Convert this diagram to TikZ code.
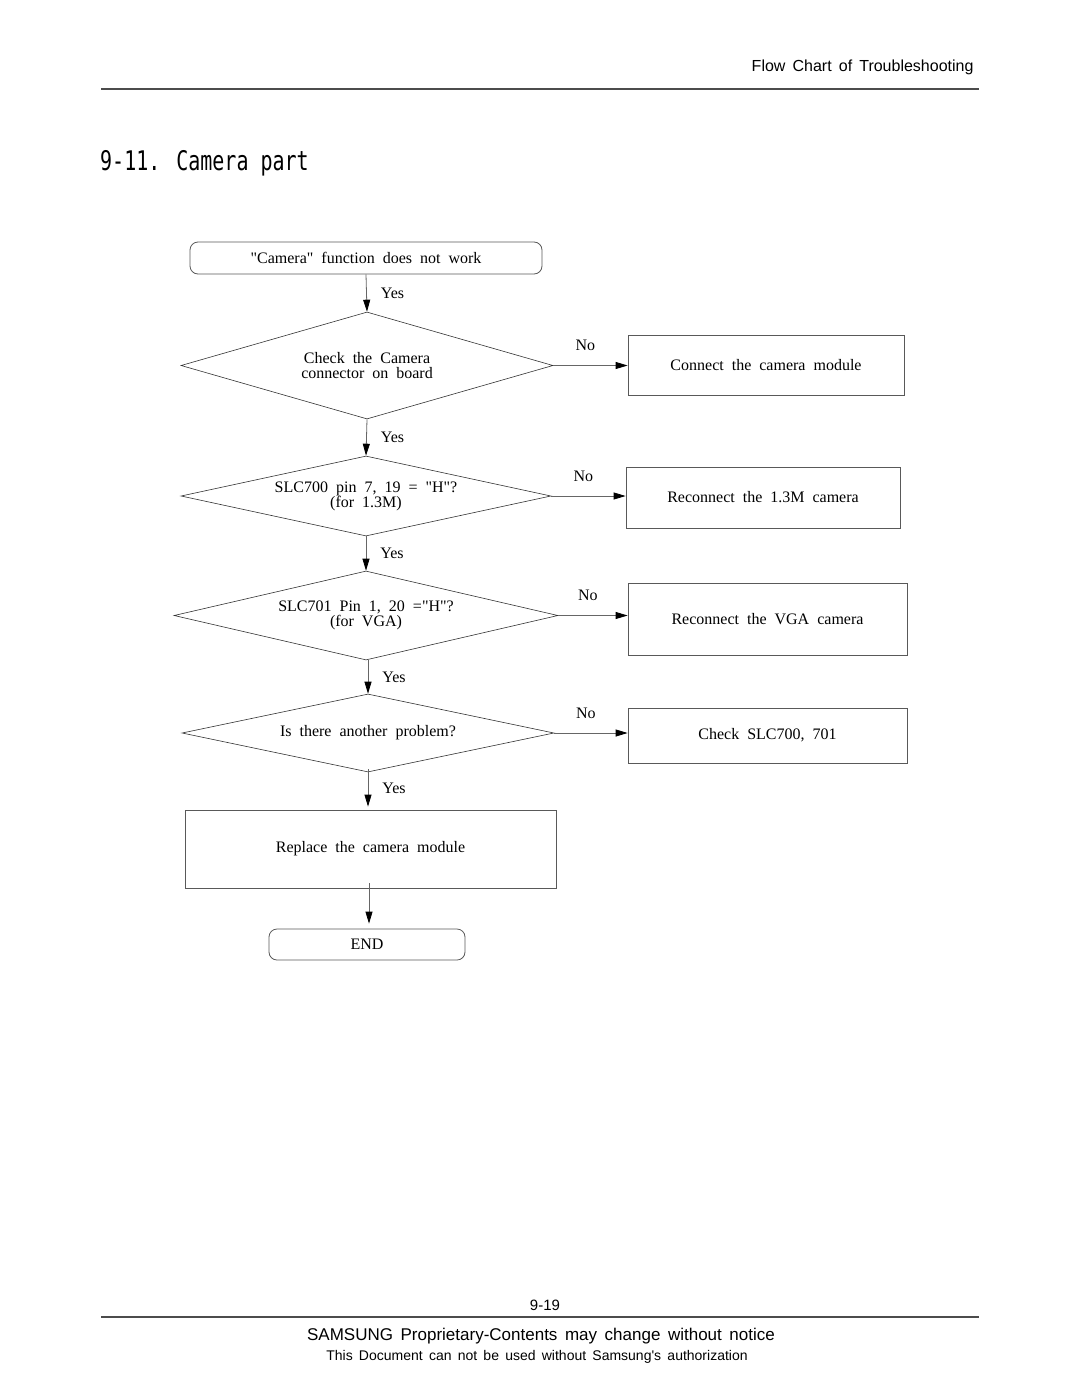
\documentclass[tikz,border=0pt]{standalone}
\usepackage{fontspec}
\usepackage{graphicx}
\setmainfont{Liberation Serif}[WordSpace=2]
\newfontfamily\hdrfont{Liberation Sans}[WordSpace=1.6]
\newfontfamily\ttlfont{DejaVu Sans Mono}
\usetikzlibrary{shapes.geometric,arrows.meta}

\begin{document}
\begin{tikzpicture}[x=1pt,y=-1pt,
  every node/.style={font=\fontsize{16}{15}\selectfont},
  term/.style={draw=black!65, rounded corners=8pt, line width=0.8pt},
  box/.style={draw=black!65, line width=0.8pt},
  dec/.style={draw=black!80, diamond, inner sep=0pt, line width=0.6pt},
  arr/.style={draw=black!60, line width=0.8pt, -{Triangle[length=12pt,width=7pt,color=black]}},
  yes/.style={midway, right=14pt, inner sep=0pt},
  no/.style={midway, above=14pt, xshift=-5pt, inner sep=0pt},
  sans/.style={font=\hdrfont\fontsize{#1}{#1}\selectfont}]
\useasboundingbox (0,0) rectangle (1080,1397);

% page header and footer
\node[sans=16, anchor=east] (hdr) at (977,67) {Flow Chart of Troubleshooting};
\draw[black!70, line width=1.5pt] (101,89) -- (979,89);
\node[anchor=west, inner sep=0pt] (ttl) at (100,163)
  {\ttlfont\fontsize{27}{27}\selectfont\scalebox{0.74}[1]{9-11. Camera part}};
\node[sans=15] (pg) at (545,1305) {9-19};
\draw[black!70, line width=1.5pt] (101,1317) -- (979,1317);
\node[sans=17] (ft1) at (541,1336) {SAMSUNG Proprietary-Contents may change without notice};
\node[sans=14] (ft2) at (537,1357) {This Document can not be used without Samsung's authorization};

% flow chart
\node[term, minimum width=352pt, minimum height=32pt] (start) at (366,258) {\textquotedbl Camera\textquotedbl{} function does not work};

\node[dec, minimum width=372pt, minimum height=107pt] (d1) at (367,365.5) {};
\node (t1) at (d1) [align=center] {Check the Camera\\connector on board};
\node[box, minimum width=276pt, minimum height=60pt] (b1) at (766,365) {Connect the camera module};

\node[dec, minimum width=370pt, minimum height=80pt] (d2) at (366,496) {};
\node (t2) at (d2) [align=center] {SLC700 pin 7, 19 = \textquotedbl H\textquotedbl ?\\(for 1.3M)};
\node[box, minimum width=274pt, minimum height=61pt] (b2) at (763,497.5) {Reconnect the 1.3M camera};

\node[dec, minimum width=384pt, minimum height=89pt] (d3) at (366,615.5) {};
\node (t3) at (d3) [align=center] {SLC701 Pin 1, 20 =\textquotedbl H\textquotedbl ?\\(for VGA)};
\node[box, minimum width=279pt, minimum height=72pt] (b3) at (767.5,619) {Reconnect the VGA camera};

\node[dec, minimum width=372pt, minimum height=78pt] (d4) at (368,733) {};
\node (t4) at (d4) {Is there another problem?};
\node[box, minimum width=279pt, minimum height=55pt] (b4) at (767.5,735.5) {Check SLC700, 701};

\node[box, minimum width=371pt, minimum height=78pt] (rep) at (370.5,849) {Replace the camera module};
\node[term, minimum width=196pt, minimum height=31pt] (end) at (367,944.5) {END};

\draw[arr] (start.south) -- (d1.north) node[yes] {Yes};
\draw[arr] (d1.south) -- (d2.north) node[yes] {Yes};
\draw[arr] (d2.south) -- (d3.north) node[yes] {Yes};
\draw[arr] (d4.north |- d3.south) -- (d4.north) node[yes] {Yes};
\draw[arr] ([yshift=3pt]d4.south) -- ([yshift=3pt]d4.south |- rep.north) node[yes] {Yes};
\draw[arr] ([xshift=-1.5pt,yshift=5pt]rep.south) -- ([xshift=-1.5pt,yshift=5pt]rep.south |- end.north);

\draw[arr] (d1.east) -- (d1.east -| b1.west) node[no] {No};
\draw[arr] (d2.east) -- (d2.east -| b2.west) node[no] {No};
\draw[arr] (d3.east) -- (d3.east -| b3.west) node[no] {No};
\draw[arr] (d4.east) -- (d4.east -| b4.west) node[no] {No};
\end{tikzpicture}
\end{document}
